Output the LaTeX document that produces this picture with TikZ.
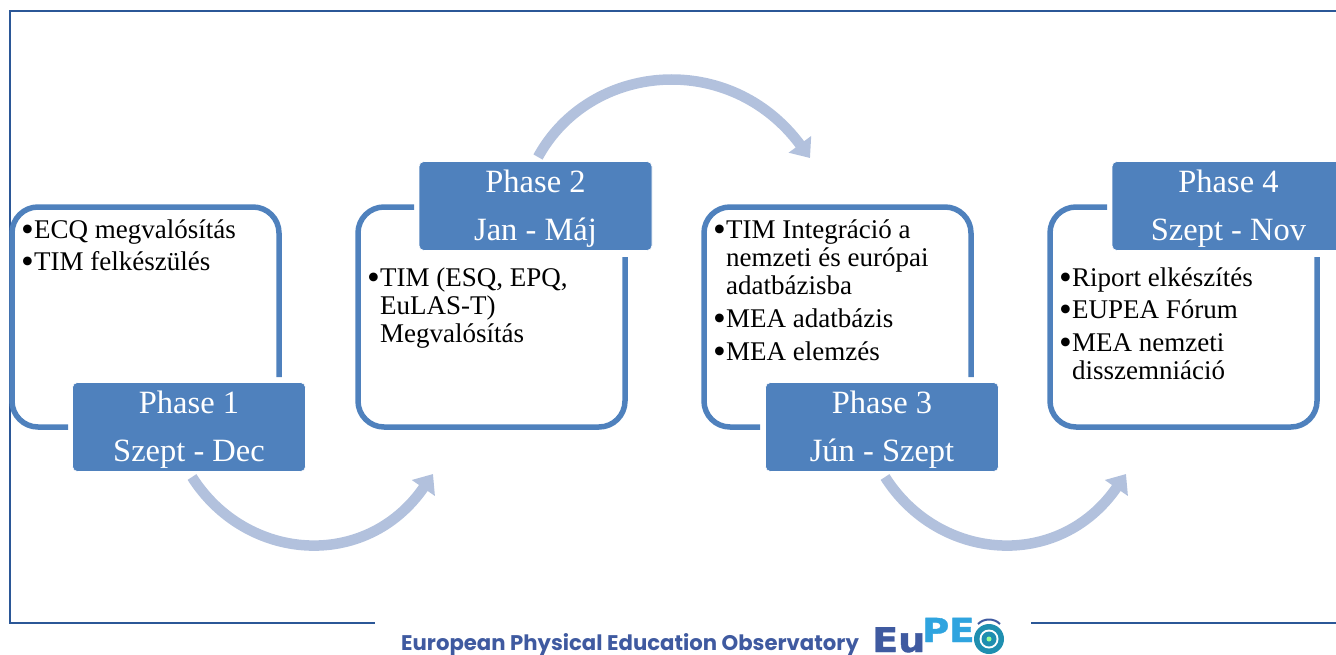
\documentclass[tikz,border=0pt]{standalone}
\usepackage{fontspec}
\setmainfont{Liberation Serif}
\newfontfamily\logofont{Poppins}
\newfontfamily\logoheavy[BoldFeatures={FakeStretch=1.12,FakeBold=1.2}]{DejaVu Sans}
\usetikzlibrary{arrows.meta}
\definecolor{phaseblue}{HTML}{4F81BD}
\definecolor{flowblue}{HTML}{B2C1DD}
\definecolor{framecol}{HTML}{2B5797}
\definecolor{logodark}{HTML}{3F5AA0}
\definecolor{logolight}{HTML}{2FA4DF}
\definecolor{logoteal}{HTML}{1F8FB0}
\newcommand{\itm}[1]{\makebox[12pt][l]{\hspace*{-1pt}\raisebox{-2.5pt}[0pt][0pt]{\scalebox{1.35}{•}}}#1}
\newcommand{\cont}[1]{\hspace*{12pt}#1}
\newcommand{\pl}[1]{\raisebox{-3pt}[\height][\depth]{#1}}
\tikzset{
  phasebox/.style={fill=phaseblue,draw=white,line width=.6pt,rounded corners=5pt,minimum width=233pt,minimum height=89pt,
    inner sep=0pt,text=white,align=center,font=\fontsize{32.5}{48}\selectfont},
  panel/.style={draw=phaseblue,line width=5.5pt,rounded corners=26pt},
  itemtext/.style={anchor=north west,inner sep=0pt,align=left,text=black,font=\fontsize{27}{28}\selectfont},
  flow/.style={draw=flowblue,line width=10.5pt,-{Triangle[length=17pt,width=27pt]}},
  framerule/.style={draw=framecol,line width=1.3pt}
}
\begin{document}
\begin{tikzpicture}[x=1pt,y=-1pt]
\useasboundingbox (0,0) rectangle (1336,654);
\clip (0,0) rectangle (1336,654);
% frame
\draw[framerule] (1336,11) -- (10,11) -- (10,623) -- (375,623);
\draw[framerule] (1031,623) -- (1336,623);
% panels
\draw[panel] (68,427) -- (12,427) -- (12,207) -- (279,207) -- (279,377);
\draw[panel] (414,207) -- (358,207) -- (358,427) -- (625,427) -- (625,257);
\draw[panel] (760,427) -- (704,427) -- (704,207) -- (971,207) -- (971,377);
\draw[panel] (1107,207) -- (1050,207) -- (1050,427) -- (1317,427) -- (1317,257);
% headers
\node[phasebox] (h1) at (189,427) {\pl{Phase 1}\\\pl{Szept - Dec}};
\node[phasebox] (h2) at (535.5,206) {\pl{Phase 2}\\\pl{Jan - Máj}};
\node[phasebox] (h3) at (882,427) {\pl{Phase 3}\\\pl{Jún - Szept}};
\node[phasebox] (h4) at (1228.5,206) {\pl{Phase 4}\\\pl{Szept - Nov}};
% item text
\node[itemtext] (t1) at (22,220) {\itm{ECQ megvalósítás}\\[4pt]\itm{TIM felkészülés}};
\node[itemtext] (t2) at (368,268) {\itm{TIM (ESQ, EPQ,}\\\cont{EuLAS-T)}\\\cont{Megvalósítás}};
\node[itemtext] (t3) at (714,220) {\itm{TIM Integráció a}\\\cont{nemzeti és európai}\\\cont{adatbázisba}\\[5pt]\itm{MEA adatbázis}\\[5pt]\itm{MEA elemzés}};
\node[itemtext] (t4) at (1060,268) {\itm{Riport elkészítés}\\[4pt]\itm{EUPEA Fórum}\\[5pt]\itm{MEA nemzeti}\\\cont{disszemniáció}};
% arrows
\coordinate (a1s) at (192,477); \coordinate (a1e) at (433,474);
\coordinate (a2s) at (538,157); \coordinate (a2e) at (810,158);
\coordinate (a3s) at (885,477); \coordinate (a3e) at (1126,474);
\draw[flow] (a1s) .. controls (246,562) and (366,571) .. (a1e);
\draw[flow] (a2s) .. controls (590,62) and (730,50) .. (a2e);
\draw[flow] (a3s) .. controls (939,562) and (1059,571) .. (a3e);
% footer
\node[anchor=base west,inner sep=0pt,text=logodark,font=\logofont\bfseries\fontsize{21.2}{21.2}\selectfont] (fl) at (401,650) {European Physical Education Observatory};
\node[anchor=base west,inner sep=0pt,text=logodark,font=\logoheavy\bfseries\fontsize{34}{34}\selectfont] (eu) at (872,652) {Eu};
\node[anchor=base west,inner sep=0pt,text=logolight,font=\logoheavy\bfseries\fontsize{33}{33}\selectfont] (pe) at (922,642) {PE};
\fill[logoteal] (989,639) circle[radius=15pt];
\fill[white] (989,639) circle[radius=9.5pt];
\fill[logoteal] (989,639) circle[radius=7.5pt];
\fill[white!60!green] (989,639) circle[radius=2.5pt];
\draw[logodark,line width=2pt] (978,624) .. controls (984,618) and (994,618) .. (1000,624);
\end{tikzpicture}
\end{document}
